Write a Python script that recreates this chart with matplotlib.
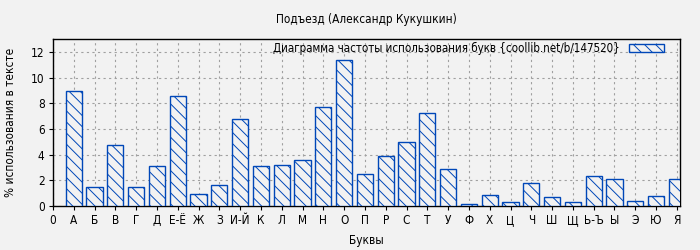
import matplotlib
matplotlib.use("Agg")
import matplotlib.pyplot as plt
from matplotlib import font_manager

labels = ["0", "А", "Б", "В", "Г", "Д", "Е-Ё", "Ж", "З", "И-Й", "К", "Л", "М", "Н", "О",
          "П", "Р", "С", "Т", "У", "Ф", "Х", "Ц", "Ч", "Ш", "Щ", "Ь-Ъ", "Ы", "Э", "Ю", "Я"]
letters = labels[1:]
values = [8.95, 1.46, 4.74, 1.46, 3.09, 8.56, 0.91, 1.62, 6.77, 3.09, 3.18, 3.57, 7.70,
          11.37, 2.47, 3.88, 4.97, 7.24, 2.86, 0.16, 0.83, 0.29, 1.77, 0.68, 0.29, 2.32,
          2.08, 0.37, 0.76, 2.08]
yticks = [0, 2, 4, 6, 8, 10, 12]

title = "Подъезд (Александр Кукушкин)"
legend_label = "Диаграмма частоты использования букв {coollib.net/b/147520}"
xlabel = "Буквы"
ylabel = "% использования в тексте"

names = {f.name for f in font_manager.fontManager.ttflist}
fam = "DejaVu Sans Condensed" if "DejaVu Sans Condensed" in names else "DejaVu Sans"
cond = any(f.name == "DejaVu Sans" and f.stretch in ("condensed", 87.5, "semi-condensed")
           for f in font_manager.fontManager.ttflist)

bg = "#f2f2f2"
blue = "#0047b8"
plt.rcParams["font.family"] = [fam]
if cond:
    plt.rcParams["font.stretch"] = "condensed"
plt.rcParams["font.size"] = 8.5
plt.rcParams["hatch.linewidth"] = 0.7
plt.rcParams["hatch.color"] = blue

fig = plt.figure(figsize=(7, 2.5), dpi=100, facecolor=bg)
ax = fig.add_axes([53/700, 44/250, 627/700, 167/250], facecolor=bg)

xs = list(range(1, len(letters) + 1))
ax.bar(xs, values, width=0.78, facecolor=bg, edgecolor=blue, linewidth=1.0,
       hatch="\\\\\\", label=legend_label, zorder=3)

ax.set_xlim(0, 30.15)
ax.set_ylim(0, 13)
ax.set_xticks(range(len(labels)))
ax.set_xticklabels(labels)
ax.set_yticks(yticks)
ax.tick_params(direction="out", length=3, width=0.8, colors="black", labelsize=8.5, pad=3)
ax.grid(True, color="#a0a0a0", linestyle=(0, (2, 3)), linewidth=0.8, zorder=0)
for s in ax.spines.values():
    s.set_linewidth(1.0)

fig.text(366/700, 1 - 19/250, title, ha="center", va="center", fontsize=8.5)
ax.set_xlabel(xlabel, fontsize=8.5, labelpad=5)
ax.set_ylabel(ylabel, fontsize=8.5, labelpad=10)

leg = ax.legend(loc="upper right", frameon=False, markerfirst=False, fontsize=8.3,
                handlelength=3.0, handleheight=0.7, borderaxespad=0.2,
                handletextpad=0.8, bbox_to_anchor=(0.985, 1.023))

fig.savefig("out.png", dpi=100, facecolor=bg)
